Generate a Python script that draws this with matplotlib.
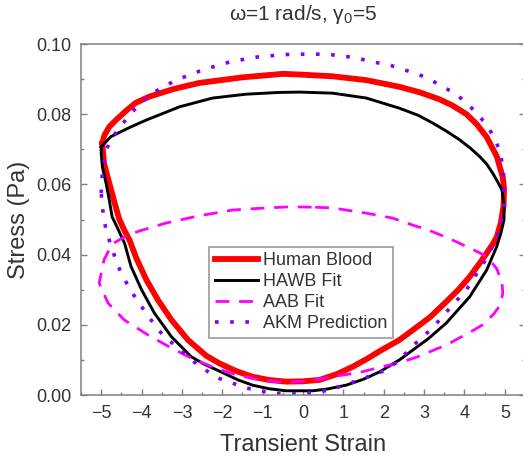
import matplotlib
matplotlib.use("Agg")
import matplotlib.pyplot as plt
from matplotlib.ticker import MultipleLocator

plt.rcParams["font.family"] = ["Liberation Sans", "DejaVu Sans"]
plt.rcParams["mathtext.fontset"] = "custom"
plt.rcParams["mathtext.rm"] = "Liberation Sans"

# ── Human Blood (measured loop) ────────────────────────────────────
blood_strain = [-4.97, -4.93, -4.80, -4.65, -4.55, -4.42, -4.30, -4.13, -3.88, -3.59,
                -3.26, -2.85, -2.40, -2.07, -1.65, -1.25, -0.85, -0.42, 0.00, 0.41,
                0.85, 1.24, 1.60, 1.90, 2.39, 2.72, 3.15, 3.55, 3.85, 4.13,
                4.38, 4.55, 4.70, 4.80, 4.90, 4.97, 4.98, 4.95,
                4.80, 4.55, 4.30, 4.05, 3.70, 3.39, 2.90, 2.39, 1.57, 0.73,
                -0.09, -0.50, -1.50, -2.57, -3.20, -3.81, -4.15, -4.38, -4.62, -4.80,
                -4.92, -4.97]
blood_stress = [0.0715, 0.0660, 0.0604, 0.0540, 0.0500, 0.0468, 0.0442, 0.0390, 0.0328, 0.0270,
                0.0214, 0.0157, 0.0112, 0.0090, 0.0068, 0.0052, 0.0043, 0.0038, 0.0039, 0.0043,
                0.0060, 0.0081, 0.0104, 0.0125, 0.0157, 0.0185, 0.0222, 0.0266, 0.0300, 0.0337,
                0.0376, 0.0404, 0.0430, 0.0450, 0.0490, 0.0540, 0.0590, 0.0620,
                0.0680, 0.0735, 0.0772, 0.0800, 0.0825, 0.0842, 0.0862, 0.0878, 0.0897, 0.0908,
                0.0913, 0.0915, 0.0905, 0.0889, 0.0872, 0.0850, 0.0832, 0.0810, 0.0785, 0.0764,
                0.0740, 0.0720]

# ── HAWB fit ───────────────────────────────────────────────────────
hawb_strain = [-5.00, -4.76, -4.30, -3.89, -3.06, -2.24, -1.41, -0.60, -0.09, 0.73,
               1.57, 2.39, 2.85, 3.21, 3.55, 3.88, 4.15, 4.38, 4.55, 4.70,
               4.82, 4.93, 4.98, 4.98, 4.90, 4.80, 4.55, 4.13, 3.55, 3.10,
               2.72, 2.39, 1.90, 1.50, 1.07, 0.60, 0.24, -0.42, -0.85, -1.25,
               -1.61, -2.07, -2.45, -2.77, -3.26, -3.68, -4.00, -4.26, -4.42, -4.58,
               -4.73, -4.80, -4.88, -4.97, -5.00, -5.00]
hawb_stress = [0.0707, 0.0736, 0.0762, 0.0783, 0.0821, 0.0846, 0.0857, 0.0862, 0.0863, 0.0860,
               0.0846, 0.0817, 0.0797, 0.0775, 0.0752, 0.0727, 0.0703, 0.0679, 0.0658, 0.0632,
               0.0608, 0.0584, 0.0540, 0.0499, 0.0460, 0.0423, 0.0356, 0.0280, 0.0205, 0.0160,
               0.0128, 0.0100, 0.0066, 0.0045, 0.0028, 0.0017, 0.0012, 0.0012, 0.0018, 0.0028,
               0.0043, 0.0068, 0.0088, 0.0109, 0.0166, 0.0233, 0.0300, 0.0366, 0.0432, 0.0472,
               0.0508, 0.0556, 0.0604, 0.0650, 0.0690, 0.0707]

# ── AAB fit ────────────────────────────────────────────────────────
aab_strain = [0.30, 0.73, 1.57, 2.22, 2.82, 3.00, 3.64, 4.20, 4.55, 4.80,
              4.93, 4.95, 4.88, 4.72, 4.45, 4.20, 3.56, 2.82, 2.39, 1.97,
              1.40, 0.66, 0.16, -0.42, -1.08, -1.65, -2.24, -2.82, -3.31, -3.84,
              -4.43, -4.83, -5.05, -4.93, -4.73, -4.40, -4.06, -3.39, -2.60, -1.74,
              -0.90, -0.33, 0.30]
aab_stress = [0.0535, 0.0533, 0.0518, 0.0504, 0.0480, 0.0475, 0.0445, 0.0415, 0.0395, 0.0360,
              0.0320, 0.0290, 0.0255, 0.0230, 0.0200, 0.0183, 0.0143, 0.0108, 0.0092, 0.0081,
              0.0064, 0.0051, 0.0040, 0.0036, 0.0043, 0.0057, 0.0080, 0.0108, 0.0137, 0.0171,
              0.0214, 0.0262, 0.0319, 0.0385, 0.0430, 0.0452, 0.0467, 0.0490, 0.0510, 0.0527,
              0.0533, 0.0536, 0.0535]

# ── AKM prediction ─────────────────────────────────────────────────
akm_strain = [-5.00, -4.97, -4.88, -4.72, -4.55, -4.30, -4.05, -3.81, -3.15, -2.49,
              -1.78, -1.08, -0.40, 0.00, 0.36, 0.73, 1.10, 1.44, 1.82, 2.15,
              2.52, 2.85, 3.18, 3.46, 3.76, 4.05, 4.33, 4.55, 4.75, 4.88,
              4.95, 4.98, 4.98, 4.97, 4.92, 4.80, 4.55, 4.30, 4.05, 3.64,
              3.20, 2.72, 2.39, 2.06, 1.40, 0.66, 0.00, -0.75, -1.41, -2.07,
              -2.35, -2.60, -2.85, -3.15, -3.43, -3.68, -3.88, -4.09, -4.30, -4.50,
              -4.63, -4.73, -4.85, -4.93, -4.97, -5.00]
akm_stress = [0.0575, 0.0632, 0.0698, 0.0735, 0.0760, 0.0798, 0.0828, 0.0855, 0.0897, 0.0926,
              0.0950, 0.0964, 0.0970, 0.0971, 0.0971, 0.0969, 0.0964, 0.0957, 0.0947, 0.0940,
              0.0926, 0.0914, 0.0897, 0.0878, 0.0860, 0.0832, 0.0800, 0.0769, 0.0732, 0.0693,
              0.0650, 0.0613, 0.0575, 0.0536, 0.0500, 0.0450, 0.0390, 0.0345, 0.0300, 0.0248,
              0.0190, 0.0140, 0.0100, 0.0071, 0.0043, 0.0014, 0.0003, 0.0005, 0.0020, 0.0047,
              0.0066, 0.0085, 0.0109, 0.0140, 0.0165, 0.0200, 0.0233, 0.0266, 0.0304, 0.0347,
              0.0380, 0.0420, 0.0456, 0.0499, 0.0536, 0.0575]

fig = plt.figure(figsize=(5.23, 4.63), dpi=100)
ax = fig.add_axes([81 / 523, 68 / 463, 444 / 523, 351 / 463])

ax.plot(blood_strain, blood_stress, color="#ff0000", lw=4.2, label="Human Blood",
        solid_joinstyle="round")
ax.plot(hawb_strain, hawb_stress, color="black", lw=2.1, label="HAWB Fit",
        solid_joinstyle="round")
ax.plot(aab_strain, aab_stress, color="#ff00ff", lw=2.0, ls=(0, (5, 3.5)), label="AAB Fit")
ax.plot(akm_strain, akm_stress, color="#7f00ff", lw=2.6, ls=(0, (1, 3.2)), label="AKM Prediction")

ax.set_xlim(-5.5, 5.5)
ax.set_ylim(0, 0.10)
ax.xaxis.set_major_locator(MultipleLocator(1))
ax.xaxis.set_minor_locator(MultipleLocator(0.5))
ax.yaxis.set_major_locator(MultipleLocator(0.02))
ax.yaxis.set_minor_locator(MultipleLocator(0.01))
ax.yaxis.set_major_formatter(plt.FormatStrFormatter("%.2f"))

for s in ax.spines.values():
    s.set_color("#808080")
    s.set_linewidth(1.1)
ax.tick_params(which="both", direction="in", color="#808080", top=False, right=True)
ax.tick_params(which="major", length=4, width=1, labelsize=13, labelcolor="#333333", pad=7)
ax.tick_params(which="minor", length=2, width=1)

ax.set_xlabel("Transient Strain", fontsize=17, color="#333333", labelpad=9)
ax.set_ylabel("Stress (Pa)", fontsize=17, color="#333333", labelpad=4)
ax.set_title("ω=1 rad/s, γ$_0$=5", fontsize=15, color="#333333", pad=17)

leg = ax.legend(loc="upper left", bbox_to_anchor=(0.289, 0.422), borderaxespad=0,
                fontsize=13, frameon=True, fancybox=False, edgecolor="#808080",
                handlelength=2.4, handletextpad=0.3, labelspacing=0.22, borderpad=0.3)
leg.get_frame().set_linewidth(1.2)
for t in leg.get_texts():
    t.set_color("#333333")

fig.savefig("out.png", dpi=100)
